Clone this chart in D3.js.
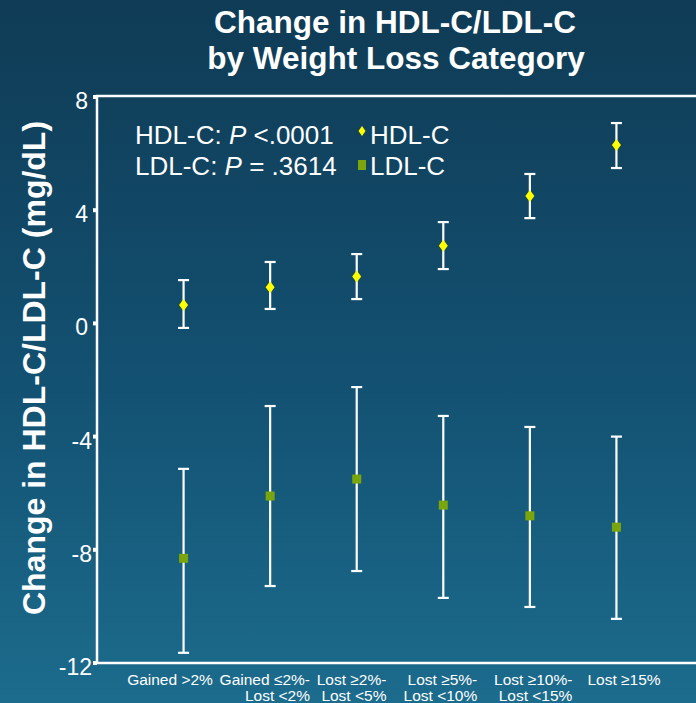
<!DOCTYPE html>
<html>
<head>
<meta charset="utf-8">
<script src="https://cdn.jsdelivr.net/npm/d3@7"></script>
<style>
  html, body { margin: 0; padding: 0; background: #14506d; }
  svg { display: block; font-family: Arial, "Liberation Sans", sans-serif; }
</style>
</head>
<body>
<script>
// categories and values
var categories = [
  ["Gained >2%"],
  ["Gained \u22642%-", "Lost <2%"],
  ["Lost \u22652%-", "Lost <5%"],
  ["Lost \u22655%-", "Lost <10%"],
  ["Lost \u226510%-", "Lost <15%"],
  ["Lost \u226515%"]
];
var hdlMean = [0.65, 1.28, 1.66, 2.74, 4.5, 6.3];
var hdlLow  = [-0.16, 0.51, 0.86, 1.92, 3.72, 5.49];
var hdlHigh = [1.53, 2.17, 2.45, 3.58, 5.28, 7.08];
var ldlMean = [-8.3, -6.1, -5.5, -6.42, -6.8, -7.2];
var ldlLow  = [-11.64, -9.28, -8.75, -9.7, -10.02, -10.44];
var ldlHigh = [-5.14, -2.92, -2.25, -3.27, -3.66, -4.0];
var yTicks = [8, 4, 0, -4, -8, -12];

var W = 696, H = 703;
var margin = {left: 97, top: 96, bottom: 663};

var svg = d3.select('body').append('svg')
    .attr('width', W)
    .attr('height', H);

var grad = svg.append('defs').append('linearGradient')
    .attr('id', 'bg').attr('x1', 0).attr('y1', 0).attr('x2', 0).attr('y2', 1);
grad.append('stop').attr('offset', '0%').attr('stop-color', '#0f3b55');
grad.append('stop').attr('offset', '55%').attr('stop-color', '#135172');
grad.append('stop').attr('offset', '100%').attr('stop-color', '#1c6c8d');
svg.append('rect').attr('width', W).attr('height', H).attr('fill', 'url(#bg)');

var idx = d3.range(categories.length);
var x = d3.scalePoint().domain(idx).range([margin.left, 703]).padding(1);
var y = d3.scaleLinear().domain([-12, 8]).range([margin.bottom, margin.top + 1]);
// category labels sit a little off the marks in the original
var xLabel = d3.scalePoint().domain(idx).range([170, 624]);

// title
svg.append('text')
    .attr('x', 395).attr('y', 33)
    .attr('text-anchor', 'middle')
    .attr('fill', '#fff').attr('font-weight', 'bold').attr('font-size', 31.5)
    .text('Change in HDL-C/LDL-C');
svg.append('text')
    .attr('x', 396).attr('y', 69)
    .attr('text-anchor', 'middle')
    .attr('fill', '#fff').attr('font-weight', 'bold').attr('font-size', 31.5)
    .text('by Weight Loss Category');

// frame: left axis, top and bottom lines
svg.append('path')
    .attr('d', 'M' + W + ',' + margin.top + 'H' + margin.left + 'V' + margin.bottom + 'H' + W)
    .attr('fill', 'none').attr('stroke', '#fff').attr('stroke-width', 2.5);

// y ticks
var yAxis = svg.append('g');
yAxis.selectAll('rect').data(yTicks).enter().append('rect')
    .attr('x', margin.left - 4).attr('y', function(d) { return y(d) - 2; })
    .attr('width', 4).attr('height', 4).attr('fill', '#fff');
yAxis.selectAll('text').data(yTicks).enter().append('text')
    .attr('x', function(d) { return d < 0 ? 92 : 88; })
    .attr('y', function(d) { return y(d) + 12; })
    .attr('text-anchor', 'end')
    .attr('fill', '#fff').attr('font-size', 23)
    .text(function(d) { return d; });

svg.append('text')
    .attr('transform', 'translate(45,368) rotate(-90)')
    .attr('text-anchor', 'middle')
    .attr('fill', '#fff').attr('font-weight', 'bold').attr('font-size', 32)
    .text('Change in HDL-C/LDL-C (mg/dL)');

// x labels: first line centred, second line right-aligned with it
var xl = svg.append('g').attr('fill', '#fff').attr('font-size', 15.5);
idx.forEach(function(i) {
    var first = xl.append('text')
        .attr('x', xLabel(i) + (i === 1 ? 4 : 0)).attr('y', 685)
        .attr('text-anchor', 'middle')
        .text(categories[i][0]);
    if (categories[i].length > 1) {
        var w = first.node().getComputedTextLength();
        xl.append('text')
            .attr('x', +first.attr('x') + w / 2).attr('y', 701)
            .attr('text-anchor', 'end')
            .text(categories[i][1]);
    }
});

// error bars
function errorBars(low, high) {
    var g = svg.append('g').attr('stroke', '#fff').attr('stroke-width', 2.2);
    g.selectAll('line.v').data(idx).enter().append('line')
        .attr('x1', function(i) { return x(i); }).attr('x2', function(i) { return x(i); })
        .attr('y1', function(i) { return y(low[i]); }).attr('y2', function(i) { return y(high[i]); });
    [low, high].forEach(function(arr) {
        g.selectAll(null).data(idx).enter().append('line')
            .attr('x1', function(i) { return x(i) - 5.5; }).attr('x2', function(i) { return x(i) + 5.5; })
            .attr('y1', function(i) { return y(arr[i]); }).attr('y2', function(i) { return y(arr[i]); });
    });
}
errorBars(hdlLow, hdlHigh);
errorBars(ldlLow, ldlHigh);

var diamond = 'M0,-6L4.5,0L0,6L-4.5,0Z';
svg.append('g').selectAll('path').data(idx).enter().append('path')
    .attr('d', diamond)
    .attr('transform', function(i) { return 'translate(' + x(i) + ',' + y(hdlMean[i]) + ')'; })
    .attr('fill', '#ffff00');
svg.append('g').selectAll('rect').data(idx).enter().append('rect')
    .attr('x', function(i) { return x(i) - 4.5; })
    .attr('y', function(i) { return y(ldlMean[i]) - 4.5; })
    .attr('width', 9).attr('height', 9)
    .attr('fill', '#7aa50c');

// legend / stats
var leg = svg.append('g').attr('fill', '#fff').attr('font-size', 26);
var t1 = leg.append('text').attr('x', 135).attr('y', 144);
t1.append('tspan').text('HDL-C: ');
t1.append('tspan').attr('font-style', 'italic').text('P');
t1.append('tspan').text(' <.0001');
var t2 = leg.append('text').attr('x', 135).attr('y', 175);
t2.append('tspan').text('LDL-C: ');
t2.append('tspan').attr('font-style', 'italic').text('P');
t2.append('tspan').text(' = .3614');

leg.append('path').attr('d', 'M0,-5L3.5,0L0,5L-3.5,0Z')
    .attr('transform', 'translate(362,131)').attr('fill', '#ffff00');
leg.append('text').attr('x', 370).attr('y', 144).text('HDL-C');
leg.append('rect').attr('x', 358).attr('y', 160).attr('width', 8).attr('height', 10).attr('fill', '#7aa50c');
leg.append('text').attr('x', 370).attr('y', 175).text('LDL-C');
</script>
</body>
</html>
